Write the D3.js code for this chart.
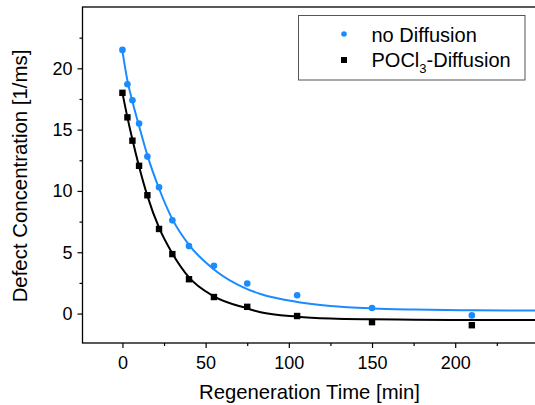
<!DOCTYPE html>
<html>
<head>
<meta charset="utf-8">
<script src="https://cdn.jsdelivr.net/npm/d3@7"></script>
<style>
  html, body { margin: 0; padding: 0; background: #fff; }
  svg { display: block; }
  text { font-family: "Liberation Sans", Arial, sans-serif; fill: #000; }
</style>
</head>
<body>
<svg id="chart" width="535" height="405"></svg>
<script>
// ---- data ----
const times = [0, 3, 6, 10, 15, 22, 30, 40, 55, 75, 105, 150, 210];
const noDiffusion = [21.5, 18.7, 17.4, 15.5, 12.8, 10.3, 7.6, 5.5, 3.9, 2.45, 1.5, 0.45, -0.15];
const poclDiffusion = [18.0, 16.0, 14.1, 12.05, 9.65, 6.9, 4.85, 2.8, 1.35, 0.55, -0.2, -0.7, -0.95];

// fitted decay curves
const fitTimes = [0, 3, 6, 10, 15, 22, 30, 40, 55, 75, 83, 105, 125, 150, 175, 210, 250];
const noDiffusionFit = [21.4, 19.0, 17.3, 15.3, 12.9, 10.2, 7.7, 5.6, 3.6, 2.0, 1.6, 0.95, 0.62, 0.42, 0.33, 0.27, 0.25];
const poclDiffusionFit = [18.0, 16.0, 14.2, 12.0, 9.6, 7.0, 4.9, 2.95, 1.4, 0.42, 0.1, -0.25, -0.4, -0.47, -0.5, -0.52, -0.52];

const xMajorTicks = [0, 50, 100, 150, 200];
const xMinorTicks = [25, 75, 125, 175, 225];
const yMajorTicks = [0, 5, 10, 15, 20];
const yMinorTicks = [2.5, 7.5, 12.5, 17.5, 22.5];

const seriesNames = ["no Diffusion", "POCl3-Diffusion"];
const blue = "#1a8cff";

// ---- layout ----
const svg = d3.select("#chart");
const mLeft = 82.5, mRight = 538.4, mTop = 7, mBottom = 343;
const x = d3.scaleLinear().domain([-24, 250]).range([mLeft, mRight]);
const y = d3.scaleLinear().domain([-2.4, 25]).range([mBottom, mTop]);

svg.append("defs").append("clipPath").attr("id", "clip")
  .append("rect").attr("x", mLeft).attr("y", mTop).attr("width", mRight - mLeft).attr("height", mBottom - mTop);

const plot = svg.append("g").attr("clip-path", "url(#clip)");

const line = d3.line().x(d => x(d[0])).y(d => y(d[1])).curve(d3.curveMonotoneX);

plot.append("path")
  .datum(fitTimes.map((t, i) => [t, noDiffusionFit[i]]))
  .attr("d", line).attr("fill", "none").attr("stroke", blue).attr("stroke-width", 2);
plot.append("path")
  .datum(fitTimes.map((t, i) => [t, poclDiffusionFit[i]]))
  .attr("d", line).attr("fill", "none").attr("stroke", "#000").attr("stroke-width", 2);

plot.selectAll("circle.nd")
  .data(times.map((t, i) => [t, noDiffusion[i]]))
  .join("circle").attr("class", "nd")
  .attr("cx", d => x(d[0])).attr("cy", d => y(d[1])).attr("r", 3.3).attr("fill", blue);

const sq = 6.4;
plot.selectAll("rect.pd")
  .data(times.map((t, i) => [t, poclDiffusion[i]]))
  .join("rect").attr("class", "pd")
  .attr("x", d => x(d[0]) - sq / 2).attr("y", d => y(d[1]) - sq / 2)
  .attr("width", sq).attr("height", sq).attr("fill", "#000");

// ---- axes ----
const axisStyle = g => {
  g.select(".domain").remove();
  g.selectAll("line").attr("stroke", "#000").attr("stroke-width", 1.2);
  g.selectAll("text").attr("font-size", 18).attr("font-family", '"Liberation Sans", Arial, sans-serif');
};

svg.append("g").attr("transform", `translate(0,${mBottom})`)
  .call(d3.axisBottom(x).tickValues(xMajorTicks).tickSize(5).tickPadding(8).tickFormat(d3.format("d")))
  .call(axisStyle);
svg.append("g").attr("transform", `translate(0,${mBottom})`)
  .call(d3.axisBottom(x).tickValues(xMinorTicks).tickSize(3).tickFormat(""))
  .call(axisStyle);

svg.append("g").attr("transform", `translate(${mLeft},0)`)
  .call(d3.axisLeft(y).tickValues(yMajorTicks).tickSize(5).tickPadding(5).tickFormat(d3.format("d")))
  .call(axisStyle);
svg.append("g").attr("transform", `translate(${mLeft},0)`)
  .call(d3.axisLeft(y).tickValues(yMinorTicks).tickSize(3).tickFormat(""))
  .call(axisStyle);

svg.append("rect").attr("x", mLeft).attr("y", mTop).attr("width", mRight - mLeft).attr("height", mBottom - mTop)
  .attr("fill", "none").attr("stroke", "#000").attr("stroke-width", 1.3);

svg.append("text").attr("x", 309.5).attr("y", 399).attr("text-anchor", "middle")
  .attr("font-size", 20.3).text("Regeneration Time [min]");
svg.append("text").attr("transform", "translate(27,176) rotate(-90)").attr("text-anchor", "middle")
  .attr("font-size", 20.4).text("Defect Concentration [1/ms]");

// ---- legend ----
const lg = svg.append("g");
lg.append("rect").attr("x", 298.5).attr("y", 15.5).attr("width", 226.5).attr("height", 64.5)
  .attr("fill", "#fff").attr("stroke", "#555").attr("stroke-width", 1);
lg.append("circle").attr("cx", 344).attr("cy", 34).attr("r", 2.8).attr("fill", blue);
lg.append("rect").attr("x", 341).attr("y", 57).attr("width", 6).attr("height", 6).attr("fill", "#000");
lg.append("text").attr("x", 371.5).attr("y", 41.5).attr("font-size", 20).text(seriesNames[0]);
const t2 = lg.append("text").attr("x", 371.5).attr("y", 66.5).attr("font-size", 20);
t2.append("tspan").text("POCl");
t2.append("tspan").attr("dy", 6).attr("font-size", 13).text("3");
t2.append("tspan").attr("dy", -6).text("-Diffusion");
</script>
</body>
</html>
